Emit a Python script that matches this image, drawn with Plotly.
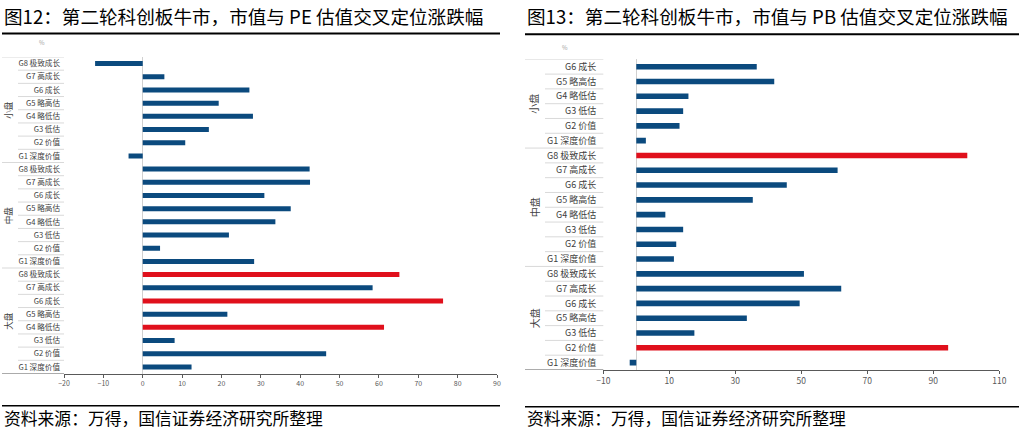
import plotly.graph_objects as go

W, H = 1019, 431

# ---------------- data ----------------
pe_groups = ["小盘"] * 8 + ["中盘"] * 8 + ["大盘"] * 8
pe_labels = ["G8 极致成长", "G7 高成长", "G6 成长", "G5 略高估", "G4 略低估", "G3 低估", "G2 价值", "G1 深度价值"] * 3
pe_values = [-12.1, 5.5, 27.1, 19.3, 28.0, 16.8, 10.8, -3.6,
             42.4, 42.5, 30.9, 37.6, 33.7, 21.9, 4.4, 28.3,
             65.2, 58.4, 76.3, 21.5, 61.3, 8.1, 46.6, 12.4]
pe_red = ["大盘|G8 极致成长", "大盘|G6 成长", "大盘|G4 略低估"]

pb_groups = ["小盘"] * 6 + ["中盘"] * 8 + ["大盘"] * 7
pb_labels = ["G6 成长", "G5 略高估", "G4 略低估", "G3 低估", "G2 价值", "G1 深度价值",
             "G8 极致成长", "G7 高成长", "G6 成长", "G5 略高估", "G4 略低估", "G3 低估", "G2 价值", "G1 深度价值",
             "G8 极致成长", "G7 高成长", "G6 成长", "G5 略高估", "G3 低估", "G2 价值", "G1 深度价值"]
pb_values = [36.5, 41.8, 15.8, 14.2, 13.1, 2.9,
             100.3, 61.0, 45.6, 35.3, 8.8, 14.2, 12.1, 11.4,
             50.8, 62.1, 49.5, 33.5, 17.6, 94.5, -2.0]
pb_red = ["中盘|G8 极致成长", "大盘|G2 价值"]

pe_xticks = [-20, -10, 0, 10, 20, 30, 40, 50, 60, 70, 80, 90]
pb_xticks = [-10, 10, 30, 50, 70, 90, 110]

title_left = "图12：第二轮科创板牛市，市值与 PE 估值交叉定位涨跌幅"
title_right = "图13：第二轮科创板牛市，市值与 PB 估值交叉定位涨跌幅"
source_text = "资料来源：万得，国信证券经济研究所整理"

BLUE = "#0B4A7E"
RED = "#E0101C"
FONT = "Noto Sans CJK SC"


def px_x(p):
    return p / W


def px_y(p):
    return 1 - p / H


fig = go.Figure()

panels = [
    dict(groups=pe_groups, labels=pe_labels, values=pe_values, red=pe_red, ticks=pe_xticks,
         xa="x", ya="y", xdom=[64 / W, 497 / W], ydom=[px_y(373.5), px_y(57)],
         lab_left=18, grp_left=2, lab_font=7.6, tick_font=7, grp_x=8, pct=(42, 43), standoff=3),
    dict(groups=pb_groups, labels=pb_labels, values=pb_values, red=pb_red, ticks=pb_xticks,
         xa="x2", ya="y2", xdom=[603.3 / W, 999.3 / W], ydom=[px_y(370), px_y(59.3)],
         lab_left=545, grp_left=525, lab_font=9, tick_font=8.5, grp_x=534, pct=(565, 47), standoff=6),
]

shapes = []
annotations = []

for i, p in enumerate(panels):
    n = len(p["values"])
    idx = list(range(n))
    colors = [RED if f"{g}|{l}" in p["red"] else BLUE for g, l in zip(p["groups"], p["labels"])]
    fig.add_trace(go.Bar(
        x=p["values"], y=idx, orientation="h", width=0.38,
        marker=dict(color=colors, line=dict(width=0)),
        xaxis=p["xa"], yaxis=p["ya"], showlegend=False, hoverinfo="x",
    ))
    sfx = "" if i == 0 else "2"
    fig.update_layout(**{
        "xaxis" + sfx: dict(
            domain=p["xdom"], anchor=p["ya"], range=[p["ticks"][0], p["ticks"][-1]],
            tickvals=p["ticks"], ticks="outside", ticklen=3, tickcolor="#595959",
            showline=True, linecolor="#595959", linewidth=1, automargin=False,
            showgrid=False, zeroline=True, zerolinecolor="#D0D0D0", zerolinewidth=1,
            tickfont=dict(family=FONT, size=p["tick_font"], color="#595959"), fixedrange=True,
        ),
        "yaxis" + sfx: dict(
            domain=p["ydom"], anchor=p["xa"], range=[n - 0.5, -0.5], automargin=False,
            tickvals=idx, ticktext=p["labels"], ticks="", showgrid=False, zeroline=False,
            showline=False, ticklabelstandoff=p["standoff"],
            tickfont=dict(family=FONT, size=p["lab_font"], color="#404040"), fixedrange=True,
        ),
    })
    xstart = p["xdom"][0]
    yref = p["ya"]
    # row separators in label column
    for k in range(n + 1):
        yb = k - 0.5
        is_group = k == 0 or k == n or p["groups"][k] != p["groups"][k - 1]
        left = p["grp_left"] if is_group else p["lab_left"]
        shapes.append(dict(type="line", xref="paper", yref=yref, x0=px_x(left), x1=xstart,
                           y0=yb, y1=yb,
                           line=dict(color="#595959" if k == n else "#D9D9D9", width=1)))
    # group labels
    start = 0
    for k in range(1, n + 1):
        if k == n or p["groups"][k] != p["groups"][k - 1]:
            annotations.append(dict(text=p["groups"][start], xref="paper", yref=yref,
                                    x=px_x(p["grp_x"]), y=(start + k - 1) / 2, showarrow=False,
                                    xanchor="center", yanchor="middle", textangle=-90,
                                    font=dict(family=FONT, size=p["lab_font"] + 1, color="#404040")))
            start = k
    annotations.append(dict(text="%", xref="paper", yref="paper", x=px_x(p["pct"][0]), y=px_y(p["pct"][1]),
                            xanchor="center", yanchor="middle", showarrow=False,
                            font=dict(family=FONT, size=6, color="#A0A0A0")))

# titles, rules, source
for (tx, t, r0, r1, top, bot) in [(2, title_left, 2, 500, 33.5, 405.8), (525, title_right, 525, 1019, 34.3, 406.8)]:
    annotations.append(dict(text=t, xref="paper", yref="paper", x=px_x(tx), y=px_y(15), xanchor="left",
                            yanchor="middle", showarrow=False, font=dict(family=FONT, size=18.6, color="#000000")))
    annotations.append(dict(text=source_text, xref="paper", yref="paper", x=px_x(tx), y=px_y(418),
                            xanchor="left", yanchor="middle", showarrow=False,
                            font=dict(family=FONT, size=16.8, color="#000000")))
    shapes.append(dict(type="line", xref="paper", yref="paper", x0=px_x(r0), x1=px_x(r1),
                       y0=px_y(top), y1=px_y(top), line=dict(color="#000000", width=2)))
    shapes.append(dict(type="line", xref="paper", yref="paper", x0=px_x(r0), x1=px_x(r1),
                       y0=px_y(bot), y1=px_y(bot), line=dict(color="#000000", width=1.5)))

fig.update_layout(
    width=W, height=H, margin=dict(l=0, r=0, t=0, b=0, autoexpand=False),
    paper_bgcolor="white", plot_bgcolor="white",
    shapes=shapes, annotations=annotations, bargap=0.6,
    font=dict(family=FONT),
)

fig.write_html("out.html", config={"displayModeBar": False},
               post_script="document.body.style.margin='0';document.body.style.overflow='hidden';")
